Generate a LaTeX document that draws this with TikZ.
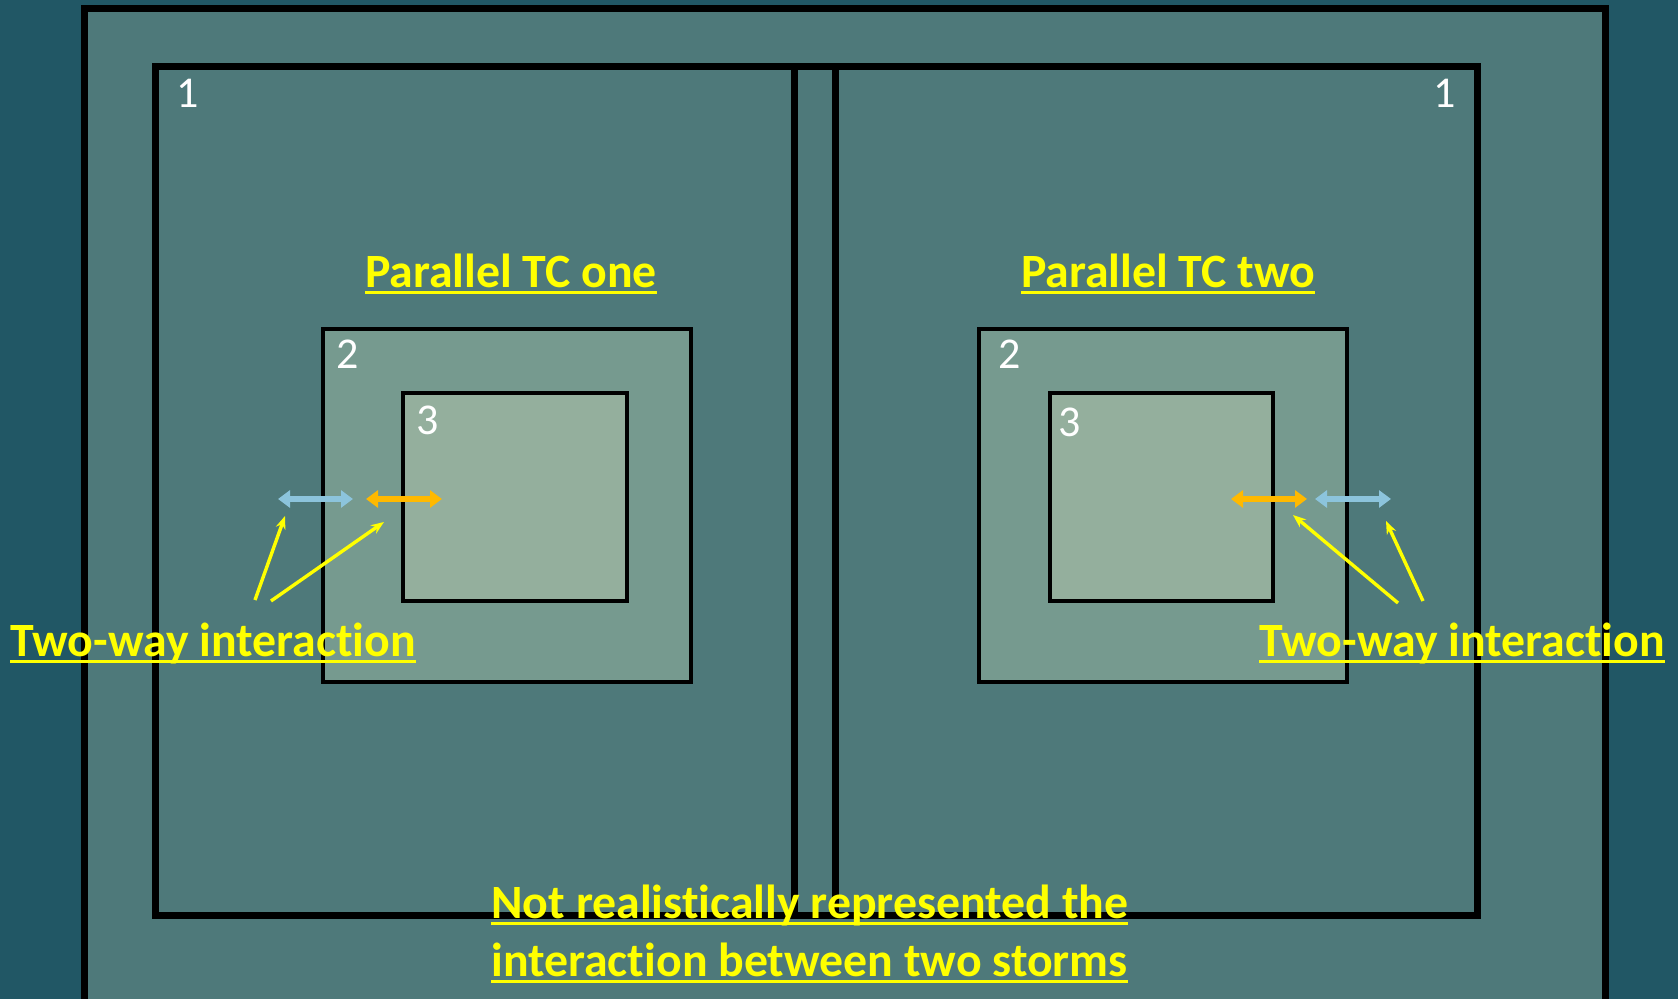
\documentclass[tikz,border=0pt]{standalone}
\usepackage{fontspec}
\setmainfont{Carlito}[Ligatures=NoCommon]
\usetikzlibrary{arrows.meta}

\definecolor{bgteal}{RGB}{33,87,101}
\definecolor{domainone}{RGB}{78,121,122}
\definecolor{domaintwo}{RGB}{118,154,143}
\definecolor{domainthree}{RGB}{148,175,157}
\definecolor{skyarrow}{RGB}{140,196,220}
\definecolor{amberarrow}{RGB}{255,185,0}
\definecolor{noteyellow}{RGB}{255,255,0}

% underlined label
\newcommand{\ulabel}[1]{\setbox0\hbox{#1}\rlap{\rule[-3.2pt]{\wd0}{1.6pt}}\box0}

\begin{document}
\begin{tikzpicture}[
    x=0.5pt, y=-0.5pt,
    frame/.style={draw=black, line width=3.5pt},
    zone/.style={draw=black, line width=2.2pt},
    title/.style={text=noteyellow, font=\fontsize{23.9}{28}\selectfont\bfseries, inner sep=0pt, anchor=base},
    num/.style={text=white, font=\fontsize{22}{26}\selectfont, inner sep=0pt, anchor=base},
    outarr/.style={draw=skyarrow, line width=2.6pt, {Triangle[width=8.5pt,length=6pt]}-{Triangle[width=8.5pt,length=6pt]}},
    inarr/.style={draw=amberarrow, line width=2.6pt, {Triangle[width=8.5pt,length=6pt]}-{Triangle[width=8.5pt,length=6pt]}},
    pointer/.style={draw=noteyellow, line width=1.7pt, -{Stealth[length=6.5pt,width=5pt]}}
]

% Background and outer domain
\useasboundingbox (0,0) rectangle (1678,999);
\fill[bgteal] (0,0) rectangle (1678,999);
\filldraw[frame, fill=domainone] (84,9) rectangle (1605,1012);

% Domain 1 (two parallel runs)
\draw[frame] (155,67) rectangle (835,916);
\draw[frame] (794,67) rectangle (1477,916);

% Domains 2 and 3, run one
\filldraw[zone, fill=domaintwo] (323,329) rectangle (691,682);
\filldraw[zone, fill=domainthree] (403,393) rectangle (627,601);

% Domains 2 and 3, run two
\filldraw[zone, fill=domaintwo] (979,329) rectangle (1347,682);
\filldraw[zone, fill=domainthree] (1050,393) rectangle (1273,601);

% Domain numbers
\node[num] (oneL) at (188,108) {1};
\node[num] (twoL) at (348,369) {2};
\node[num] (threeL) at (428,435) {3};
\node[num] (oneR) at (1445,108) {1};
\node[num] (twoR) at (1010,369) {2};
\node[num] (threeR) at (1070,437) {3};

% Titles
\node[title] (tcone) at (511,288) {\ulabel{Parallel TC one}};
\node[title] (tctwo) at (1168,288) {\ulabel{Parallel TC two}};

% Two-way exchange at the nest edges
\coordinate (skyLa) at (278,499);
\coordinate (skyLb) at (353,499);
\coordinate (ambLa) at (366,499);
\coordinate (ambLb) at (442,499);
\coordinate (ambRa) at (1231,499);
\coordinate (ambRb) at (1307,499);
\coordinate (skyRa) at (1315,499);
\coordinate (skyRb) at (1391,499);
\draw[outarr] (skyLa) -- (skyLb);
\draw[inarr] (ambLa) -- (ambLb);
\draw[inarr] (ambRa) -- (ambRb);
\draw[outarr] (skyRa) -- (skyRb);

% Labels and pointers
\node[title, anchor=base west] (twowayL) at (10,657) {\ulabel{Two-way interaction}};
\node[title, anchor=base west] (twowayR) at (1259,657) {\ulabel{Two-way interaction}};

\coordinate (ptLa) at (255,600);
\coordinate (ptLb) at (271,601);
\coordinate (ptRa) at (1398,603);
\coordinate (ptRb) at (1423,601);
\coordinate (tipLa) at (285,516);
\coordinate (tipLb) at (384,522);
\coordinate (tipRa) at (1293,515);
\coordinate (tipRb) at (1386,521);
\draw[pointer] (ptLa) -- (tipLa);
\draw[pointer] (ptLb) -- (tipLb);
\draw[pointer] (ptRa) -- (tipRa);
\draw[pointer] (ptRb) -- (tipRb);

% Note at the bottom
\node[title, anchor=base west] (notea) at (491,919) {\ulabel{Not realistically represented the}};
\node[title, anchor=base west] (noteb) at (491,977) {\ulabel{interaction between two storms}};

\end{tikzpicture}
\end{document}
